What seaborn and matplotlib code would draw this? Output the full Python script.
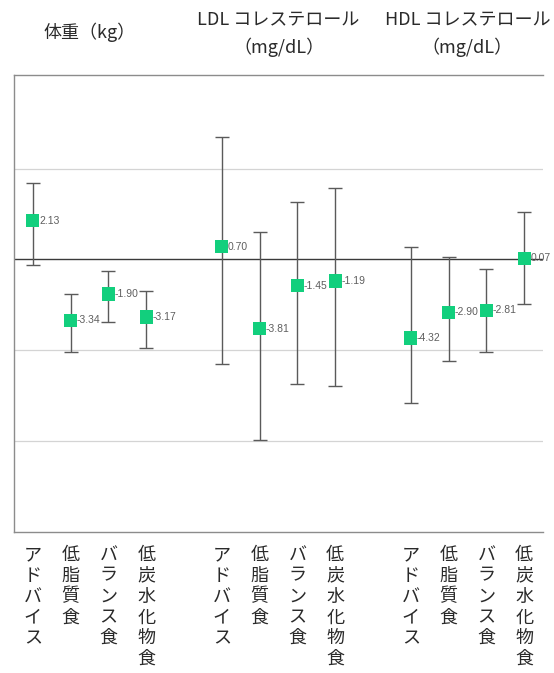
import matplotlib
matplotlib.use("Agg")
import matplotlib.pyplot as plt
import matplotlib.transforms as mtransforms
import seaborn as sns
import pandas as pd

# ---- data ----
categories = ["アドバイス", "低脂質食", "バランス食", "低炭水化物食"]
group_titles = [("体重（kg）", None),
                ("LDL コレステロール", "（mg/dL）"),
                ("HDL コレステロール", "（mg/dL）")]
values = [2.13, -3.34, -1.90, -3.17,
          0.70, -3.81, -1.45, -1.19,
          -4.32, -2.90, -2.81, 0.07]
err_upper = [4.21, -1.91, -0.63, -1.75,
             6.73, 1.52, 3.18, 3.91,
             0.69, 0.13, -0.55, 2.61]
err_lower = [-0.31, -5.11, -3.44, -4.89,
             -5.77, -9.91, -6.84, -6.98,
             -7.88, -5.61, -5.11, -2.46]
value_labels = ["2.13", "-3.34", "-1.90", "-3.17",
                "0.70", "-3.81", "-1.45", "-1.19",
                "-4.32", "-2.90", "-2.81", "0.07"]

slots = []
for g in range(3):
    for i in range(4):
        slots.append(g * 5 + i)

df = pd.DataFrame({
    "slot": slots,
    "value": values,
    "hi": err_upper,
    "lo": err_lower,
    "label": value_labels,
    "cat": categories * 3,
})

sns.set_theme(style="white")
plt.rcParams["font.family"] = ["Noto Sans CJK JP", "DejaVu Sans"]

fig = plt.figure(figsize=(5.54, 6.73), dpi=100)
ax = fig.add_axes([0.0253, 0.2095, 0.9549, 0.6791])

ax.set_xlim(-0.5, 13.5)
ax.set_ylim(-15, 10.15)

# grid lines
for yv in [5, -5, -10]:
    ax.axhline(yv, color="#d4d4d4", lw=0.9, zorder=0)
ax.axhline(0, color="#3a3a3a", lw=1.0, zorder=1)

# error bars
ax.errorbar(df["slot"], df["value"],
            yerr=[df["value"] - df["lo"], df["hi"] - df["value"]],
            fmt="none", ecolor="#5a5a5a", elinewidth=1.0,
            capsize=5.2, capthick=1.0, zorder=2)

# markers
sns.scatterplot(data=df, x="slot", y="value", marker="s", s=90,
                color="#12cf7d", edgecolor="none", linewidth=0,
                ax=ax, zorder=3, legend=False)

# value labels
for x, y, t in zip(df["slot"], df["value"], df["label"]):
    ax.text(x + 0.16, y, t, ha="left", va="center", fontsize=7.5,
            color="#5e5e5e",
            family=["Liberation Sans", "DejaVu Sans"], zorder=4)

# spines
for side in ["left", "top", "bottom"]:
    ax.spines[side].set_visible(True)
    ax.spines[side].set_color("#8c8c8c")
    ax.spines[side].set_linewidth(1.0)
ax.spines["right"].set_visible(False)

ax.set_yticks([])
ax.set_xlabel("")
ax.set_ylabel("")
ax.set_xticks(slots)
ax.set_xticklabels(["\n".join(c) for c in df["cat"]], fontsize=13,
                   color="#2a2a2a", linespacing=1.2)
ax.tick_params(axis="x", length=0, pad=10)

# group titles
trans = mtransforms.blended_transform_factory(ax.transData, fig.transFigure)
centers = [1.5, 6.5, 11.5]
for (l1, l2), cx in zip(group_titles, centers):
    if l2 is None:
        ax.text(cx, 1 - 32 / 673, l1, transform=trans, ha="center",
                va="center", fontsize=13, color="#2a2a2a")
    else:
        ax.text(cx, 1 - 20 / 673, l1, transform=trans, ha="center",
                va="center", fontsize=13, color="#2a2a2a")
        ax.text(cx, 1 - 47 / 673, l2, transform=trans, ha="center",
                va="center", fontsize=13, color="#2a2a2a")

fig.savefig("out.png", dpi=100, facecolor="white")
